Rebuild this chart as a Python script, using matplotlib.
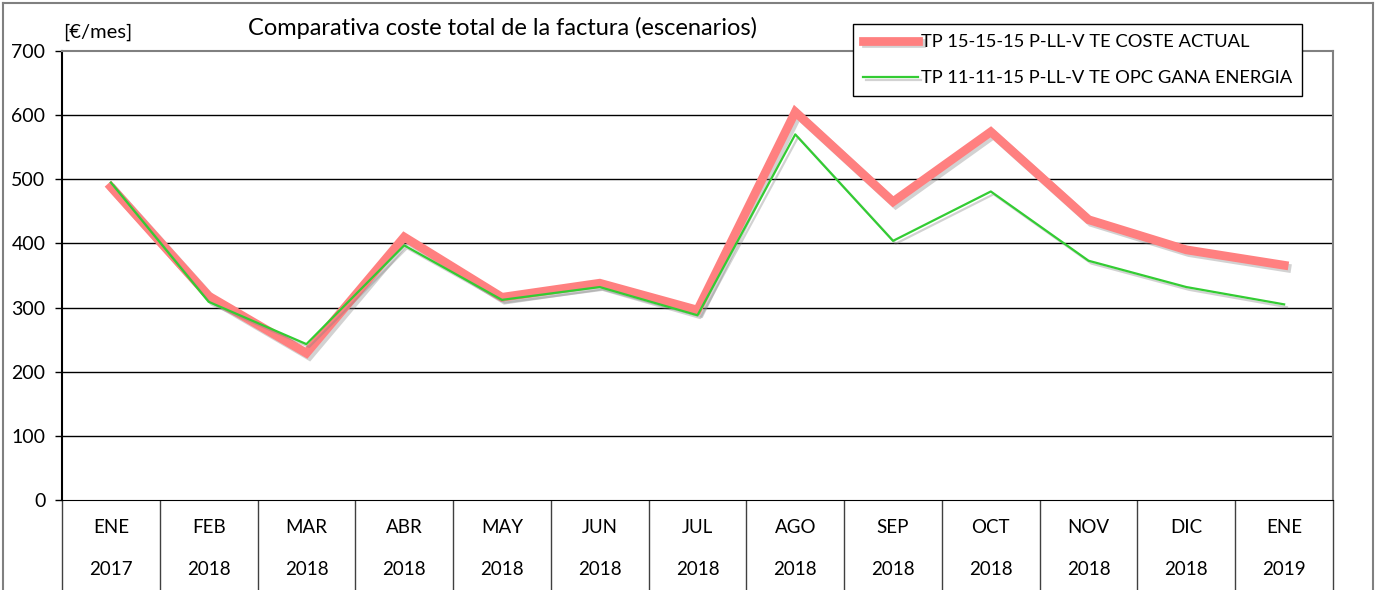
import matplotlib.pyplot as plt
import matplotlib.patheffects as pe
from matplotlib.lines import Line2D
import numpy as np

plt.rcParams['font.family'] = ['Lato', 'DejaVu Sans']

months = ['ENE', 'FEB', 'MAR', 'ABR', 'MAY', 'JUN', 'JUL', 'AGO', 'SEP', 'OCT', 'NOV', 'DIC', 'ENE']
years = ['2017', '2018', '2018', '2018', '2018', '2018', '2018', '2018', '2018', '2018', '2018', '2018', '2019']
coste_actual = [488, 318, 229, 410, 316, 338, 296, 605, 465, 574, 437, 390, 366]
gana_energia = [495, 309, 243, 397, 312, 332, 288, 570, 404, 481, 373, 332, 305]

W, H = 1379, 590
fig = plt.figure(figsize=(W / 100, H / 100), dpi=100)
ax = fig.add_axes([62 / W, 1 - 500 / H, (1333 - 62) / W, (500 - 51) / H])

x = np.arange(len(months))
shadow = [pe.SimpleLineShadow(offset=(2, -2), shadow_color='gray', alpha=0.35), pe.Normal()]
ax.plot(x, coste_actual, color='#ff8080', lw=6.3, solid_joinstyle='miter',
        label='TP 15-15-15 P-LL-V TE COSTE ACTUAL', path_effects=shadow, zorder=3)
ax.plot(x, gana_energia, color='#33cc33', lw=1.6,
        label='TP 11-11-15 P-LL-V TE OPC GANA ENERGIA', path_effects=shadow, zorder=4)

ax.set_xlim(-0.5, len(months) - 0.5)
ax.set_ylim(0, 700)
ax.set_yticks(range(0, 701, 100))
for v in range(100, 700, 100):
    ax.axhline(v, color='black', lw=1, zorder=1)

ax.spines['top'].set_color('#808080')
ax.spines['right'].set_color('#808080')
ax.spines['right'].set_linewidth(1.5)
ax.spines['top'].set_linewidth(1.5)
ax.spines['left'].set_linewidth(1.5)
ax.tick_params(axis='y', length=5, width=1, labelsize=14, pad=7)

# separadores de categorías y etiquetas en dos filas
ax.set_xticks(np.arange(-0.5, len(months), 1.0), minor=True)
ax.set_xticks([])
ax.tick_params(axis='x', which='minor', length=68, width=1, color='#404040')
for i in range(len(months)):
    ax.text(i, -0.062, months[i], ha='center', va='center', fontsize=13.5,
            transform=ax.get_xaxis_transform())
    ax.text(i, -0.155, years[i], ha='center', va='center', fontsize=13.5,
            transform=ax.get_xaxis_transform())

fig.text(503 / W, 1 - 28 / H, 'Comparativa coste total de la factura (escenarios)',
         ha='center', va='center', fontsize=17)
fig.text(63 / W, 1 - 32 / H, '[€/mes]', ha='left', va='center', fontsize=14.5)

leg = ax.legend(loc='upper left', bbox_to_anchor=(853 / W, 1 - 24 / H),
                bbox_transform=fig.transFigure, fontsize=13.2, frameon=True,
                fancybox=False, edgecolor='black', framealpha=1, borderaxespad=0,
                handlelength=3, borderpad=0.55, labelspacing=1.1, handletextpad=0.15)
leg.get_frame().set_linewidth(1)

# borde exterior del gráfico
fig.add_artist(Line2D([3 / W, 3 / W], [0, 1 - 3 / H], color='#808080', lw=1.5))
fig.add_artist(Line2D([3 / W, 1373 / W], [1 - 3 / H, 1 - 3 / H], color='#808080', lw=1.5))
fig.add_artist(Line2D([1373 / W, 1373 / W], [0, 1 - 3 / H], color='#808080', lw=1.5))

fig.savefig('out.png', dpi=100)
plt.close()
